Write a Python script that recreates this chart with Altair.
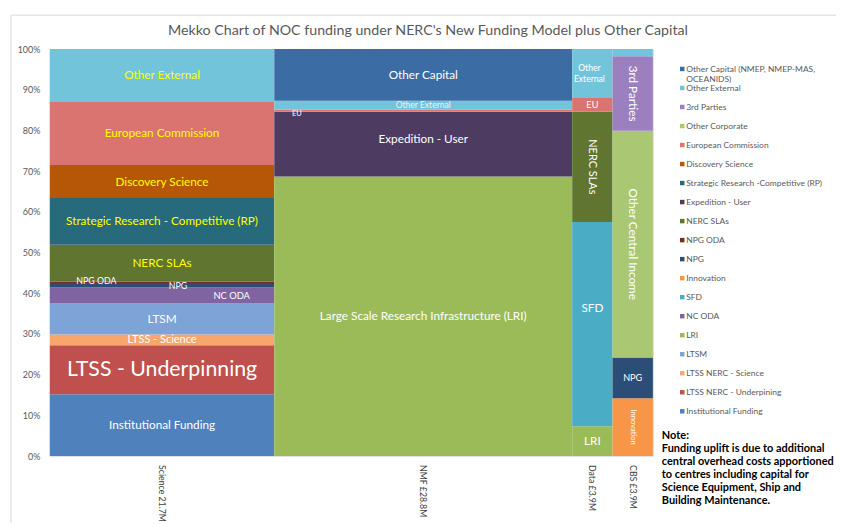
import altair as alt
import pandas as pd

FONT = "Lato"

# ---- columns (x widths) ----
columns = ["Science", "NMF", "Data", "CBS"]
column_totals = [21.7, 28.8, 3.9, 3.9]
column_labels = ["Science 21.7M", "NMF £28.8M", "Data £3.9M", "CBS £3.9M"]

# ---- legend (top to bottom) ----
legend_series = [
    "Other Capital (NMEP, NMEP-MAS, OCEANIDS)", "Other External", "3rd Parties",
    "Other Corporate", "European Commission", "Discovery Science",
    "Strategic Research -Competitive (RP)", "Expedition - User", "NERC SLAs",
    "NPG ODA", "NPG", "Innovation", "SFD", "NC ODA", "LRI", "LTSM",
    "LTSS NERC - Science", "LTSS NERC - Underpining", "Institutional Funding",
]
legend_text = [
    "Other Capital (NMEP, NMEP-MAS,\nOCEANIDS)", "Other External", "3rd Parties",
    "Other Corporate", "European Commission", "Discovery Science",
    "Strategic Research -Competitive (RP)", "Expedition - User", "NERC SLAs",
    "NPG ODA", "NPG", "Innovation", "SFD", "NC ODA", "LRI", "LTSM",
    "LTSS NERC - Science", "LTSS NERC - Underpining", "Institutional Funding",
]
legend_colors = [
    "#3B6CA3", "#72C4DB", "#9C7FBE", "#AAC774", "#D97470", "#B65708",
    "#276A7C", "#4E3B62", "#5F7530", "#772C2A", "#2C4D76", "#F79646",
    "#4BACC6", "#8064A2", "#9BBB59", "#7EA3D6", "#F9A66C", "#C0504D", "#4F81BD",
]

# ---- segments per column (bottom to top, % of column) ----
science_series = ["Institutional Funding", "LTSS NERC - Underpining", "LTSS NERC - Science",
                  "LTSM", "NC ODA", "NPG", "NPG ODA", "NERC SLAs",
                  "Strategic Research -Competitive (RP)", "Discovery Science",
                  "European Commission", "Other External"]
science_pct = [15.2, 12.0, 2.7, 7.6, 3.9, 1.1, 0.4, 9.0, 11.5, 8.1, 15.5, 13.0]
science_labels = ["Institutional Funding", "LTSS - Underpinning", "LTSS - Science",
                  "LTSM", "NC ODA", "NPG", "NPG ODA", "NERC SLAs",
                  "Strategic Research - Competitive (RP)", "Discovery Science",
                  "European Commission", "Other External"]

nmf_series = ["LRI", "Expedition - User", "European Commission", "Other External",
              "Other Capital (NMEP, NMEP-MAS, OCEANIDS)"]
nmf_pct = [68.7, 15.9, 0.5, 2.2, 12.7]
nmf_labels = ["Large Scale Research Infrastructure (LRI)", "Expedition - User", "EU",
              "Other External", "Other Capital"]

data_series = ["LRI", "SFD", "NERC SLAs", "European Commission", "Other External"]
data_pct = [7.3, 50.2, 27.1, 3.4, 12.0]
data_labels = ["LRI", "SFD", "NERC SLAs", "EU", "Other\nExternal"]

cbs_series = ["Innovation", "NPG", "Other Corporate", "3rd Parties", "Other External"]
cbs_pct = [14.2, 10.0, 55.7, 18.3, 1.8]
cbs_labels = ["Innovation", "NPG", "Other Central Income", "3rd Parties", ""]

note_text = ("Note:\nFunding uplift is due to additional\ncentral overhead costs apportioned\n"
             "to centres including capital for\nScience Equipment, Ship and\nBuilding Maintenance.")

title_text = "Mekko Chart of NOC funding under NERC's New Funding Model plus Other Capital"

# ---- build table ----
rows = []
n_leg = len(legend_series)
for ci, (col, ser, pct, lab) in enumerate([
    ("Science", science_series, science_pct, science_labels),
    ("NMF", nmf_series, nmf_pct, nmf_labels),
    ("Data", data_series, data_pct, data_labels),
    ("CBS", cbs_series, cbs_pct, cbs_labels),
]):
    for s, p, l in zip(ser, pct, lab):
        rows.append({
            "col": col, "col_idx": ci, "total": column_totals[ci],
            "col_label": column_labels[ci],
            "series": s, "pct": p, "label": l,
            "order": n_leg - 1 - legend_series.index(s),
        })
df = pd.DataFrame(rows)

W, H = 606, 409

base = alt.Chart(df).transform_window(
    rn="row_number()", groupby=["col"], sort=[alt.SortField("order")]
).transform_calculate(
    w="datum.rn == 1 ? datum.total : 0"
).transform_window(
    cum="sum(w)", sort=[alt.SortField("col_idx"), alt.SortField("order")], frame=[None, 0]
).transform_calculate(
    x1="datum.cum", x0="datum.cum - datum.total", xm="datum.cum - datum.total / 2"
).transform_stack(
    stack="pct", groupby=["col"], sort=[alt.SortField("order")], as_=["y0", "y1"]
).transform_calculate(
    ym="(datum.y0 + datum.y1) / 2"
)

xs = alt.Scale(domain=[0, sum(column_totals)], nice=False, zero=True)
ys = alt.Scale(domain=[0, 100], nice=False)

bars = base.mark_rect(strokeWidth=0).encode(
    x=alt.X("x0:Q", scale=xs, axis=None),
    x2="x1:Q",
    y=alt.Y("y0:Q", scale=ys, title=None,
            axis=alt.Axis(values=list(range(0, 101, 10)), labelExpr="datum.value + '%'",
                          domain=False, ticks=False, grid=False, labelPadding=10,
                          labelFont=FONT, labelFontSize=9, labelColor="#595959")),
    y2="y1:Q",
    color=alt.Color("series:N", scale=alt.Scale(domain=legend_series, range=legend_colors),
                    legend=None),
)


def seg_label(col, names, **kw):
    cond = " || ".join("datum.series == '%s'" % s for s in names)
    params = dict(font=FONT, fontSize=11.8, color="white", align="center", baseline="middle")
    params.update(kw)
    return base.transform_filter("datum.col == '%s' && (%s)" % (col, cond)).mark_text(
        **params).encode(
        x=alt.X("xm:Q", scale=xs), y=alt.Y("ym:Q", scale=ys), text="label:N")


labels = [
    seg_label("Science", ["Other External", "European Commission", "Discovery Science",
                          "Strategic Research -Competitive (RP)", "NERC SLAs"], color="#FFFF00"),
    seg_label("Science", ["LTSM", "Institutional Funding"]),
    seg_label("Science", ["LTSS NERC - Science"], fontSize=11),
    seg_label("Science", ["LTSS NERC - Underpining"], fontSize=21.4),
    seg_label("Science", ["NPG ODA"], fontSize=8.8, dx=-66, dy=-1),
    seg_label("Science", ["NPG"], fontSize=8.8, dx=16, dy=1),
    seg_label("Science", ["NC ODA"], fontSize=9.4, dx=70, dy=1),
    seg_label("NMF", ["Other Capital (NMEP, NMEP-MAS, OCEANIDS)", "LRI"]),
    seg_label("NMF", ["Expedition - User"], dy=-5),
    seg_label("NMF", ["Other External"], fontSize=8.6, color="#E8F4F4"),
    seg_label("NMF", ["European Commission"], fontSize=7.6, dx=-127, dy=3),
    seg_label("Data", ["Other External"], fontSize=8.6, lineBreak="\n", dy=-5, dx=-3),
    seg_label("Data", ["European Commission"], fontSize=9.2),
    seg_label("Data", ["NERC SLAs"], fontSize=11, angle=90),
    seg_label("Data", ["SFD"], dy=-16),
    seg_label("Data", ["LRI"]),
    seg_label("CBS", ["3rd Parties", "Other Corporate"], angle=90),
    seg_label("CBS", ["NPG"], fontSize=9.2),
    seg_label("CBS", ["Innovation"], fontSize=7.6, angle=90),
]

col_text = base.transform_filter("datum.rn == 1").mark_text(
    font=FONT, fontSize=8.8, color="#404040", angle=90, align="left", baseline="middle"
).encode(
    x=alt.X("xm:Q", scale=xs),
    y=alt.value(H + 9),
    text="col_label:N",
)

inner = alt.layer(bars, *labels, col_text)

leg_df = pd.DataFrame({"series": legend_series, "text": legend_text,
                       "idx": list(range(len(legend_series)))})
leg_y = alt.Y("idx:Q", scale=alt.Scale(domain=[0, len(legend_series) - 1], range=[20, 364]),
              axis=None)
leg_sq = alt.Chart(leg_df).mark_square(size=20, opacity=1).encode(
    x=alt.value(635.5), y=leg_y,
    color=alt.Color("series:N", scale=alt.Scale(domain=legend_series, range=legend_colors),
                    legend=None),
)
leg_txt = alt.Chart(leg_df).mark_text(
    font=FONT, fontSize=8.5, color="#595959", align="left", baseline="middle", lineBreak="\n"
).encode(x=alt.value(639.5), y=leg_y, text="text:N")

note = alt.Chart(pd.DataFrame({"t": [note_text]})).mark_text(
    font=FONT, fontSize=11, fontWeight="bold", color="black", align="left",
    baseline="top", lineBreak="\n", lineHeight=13
).encode(x=alt.value(615), y=alt.value(383), text="t:N")

# light grey chart-area border (top and left edges)
border = alt.Chart(pd.DataFrame({"k": [0]})).mark_rule(color="#D9D9D9", strokeWidth=1).encode(
    x=alt.value(-39), x2=alt.value(800), y=alt.value(-34), y2=alt.value(-34))
border_l = alt.Chart(pd.DataFrame({"k": [0]})).mark_rule(color="#D9D9D9", strokeWidth=1).encode(
    x=alt.value(-39), y=alt.value(-34), y2=alt.value(480))

chart = alt.layer(border, border_l, inner, leg_sq, leg_txt, note).resolve_scale(
    y="independent").properties(
    width=W, height=H,
    title=alt.TitleParams(title_text, font=FONT, fontSize=14.3, fontWeight="normal",
                          color="#595959", anchor="middle", dx=77, dy=4, offset=-20),
    autosize=alt.AutoSizeParams(type="none"),
    padding={"left": 42, "top": 40, "right": 184, "bottom": 66},
).configure_view(stroke=None).configure(background="white")

chart.save("out.html", embed_options={"renderer": "svg", "actions": False})
